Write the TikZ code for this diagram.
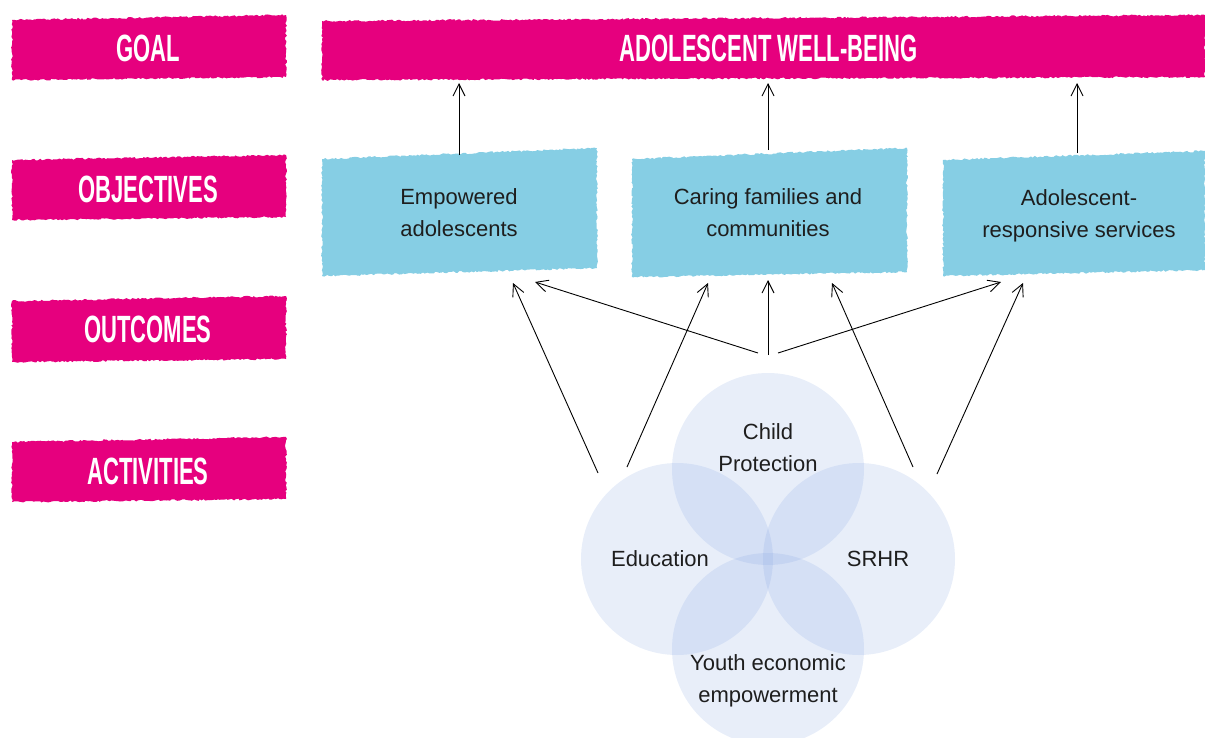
\documentclass[tikz,border=0pt]{standalone}
\usepackage{fontspec}
\usepackage{graphicx}
\setmainfont{Liberation Sans}
\usetikzlibrary{arrows.meta,decorations.pathmorphing}
\definecolor{pinkc}{HTML}{E6007E}
\definecolor{bluec}{HTML}{86CEE4}
\definecolor{vennc}{HTML}{7FA0E0}
\definecolor{txtc}{HTML}{1E1E1E}
\newcommand{\cond}[1]{\scalebox{0.58}[1]{#1}}
\begin{document}
\begin{tikzpicture}[x=1pt,y=-1pt,
  torn/.style={decorate,decoration={random steps,segment length=2pt,amplitude=0.9pt}},
  lab/.style={text=white,inner sep=0pt,font=\fontsize{38}{38}\selectfont\bfseries},
  conn/.style={-{Straight Barb[length=12pt,width=12pt,line width=0.9pt]},line width=0.9pt,black},
  body/.style={text=txtc,inner sep=0pt,align=center,font=\fontsize{22}{32}\selectfont},
  venn/.style={circle,fill=vennc,fill opacity=0.18,minimum size=192pt,inner sep=0pt}
]
\pgfmathsetseed{7}
\useasboundingbox (0,0) rectangle (1205,737);

% left pink labels
\fill[pinkc,torn] (12,20) -- (286,15) -- (286,77) -- (12,80) -- cycle;
\fill[pinkc,torn] (12,160) -- (286,155) -- (286,217) -- (12,220) -- cycle;
\fill[pinkc,torn] (12,301) -- (286,296) -- (286,359) -- (12,362) -- cycle;
\fill[pinkc,torn] (12,442) -- (286,437) -- (286,499) -- (12,502) -- cycle;
\node[lab] (goal) at (148,48.5) {\cond{GOAL}};
\node[lab] (obj) at (148,189) {\cond{OBJECTIVES}};
\node[lab] (out) at (148,329) {\cond{OUTCOMES}};
\node[lab] (act) at (148,471) {\cond{ACTIVITIES}};

% goal banner
\fill[pinkc,torn] (322,21) -- (1205,15) -- (1205,77) -- (322,80) -- cycle;
\node[lab] (wb) at (768.5,48.5) {\cond{ADOLESCENT WELL-BEING}};

% objective boxes
\fill[bluec,torn] (322,159) -- (597,148) -- (597,268) -- (322,276) -- cycle;
\fill[bluec,torn] (632,159) -- (907,148) -- (907,272) -- (632,277) -- cycle;
\fill[bluec,torn] (943,160) -- (1205,151) -- (1205,270) -- (943,276) -- cycle;
\node[body] (o1) at (459,213) {Empowered\\adolescents};
\node[body] (o2) at (768,213) {Caring families and\\communities};
\node[body] (o3) at (1079,215.5) {Adolescent-\\responsive services};

% coordinates for connectors
\coordinate (o1t) at (459,155);
\coordinate (o2t) at (768,150);
\coordinate (o3t) at (1077,153);
\coordinate (g1) at (459,83);
\coordinate (g2) at (768,83);
\coordinate (g3) at (1077,83);
\draw[conn] (o1t) -- (g1);
\draw[conn] (o2t) -- (g2);
\draw[conn] (o3t) -- (g3);

% Venn circles
\node[venn] (cp) at (768,469) {};
\node[venn] (ed) at (677,559) {};
\node[venn] (sr) at (859,559) {};
\node[venn] (ye) at (768,649) {};
\node[body] (cpt) at (768,448) {Child\\Protection};
\node[body] (edt) at (660,559) {Education};
\node[body] (srt) at (878,559) {SRHR};
\node[body] (yet) at (768,681) {Youth economic\\empowerment};

% outcome connectors
\coordinate (e1) at (598,473);
\coordinate (e2) at (627,467);
\coordinate (s1) at (913,467);
\coordinate (s2) at (937,474);
\coordinate (cl) at (758,353);
\coordinate (cm) at (768,355);
\coordinate (cr) at (778,353);
\coordinate (t1) at (513,283);
\coordinate (t2) at (535,282);
\coordinate (t3) at (708,283);
\coordinate (t4) at (768,280);
\coordinate (t5) at (832,283);
\coordinate (t6) at (1001,282);
\coordinate (t7) at (1023,283);
\draw[conn] (e1) -- (t1);
\draw[conn] (e2) -- (t3);
\draw[conn] (cl) -- (t2);
\draw[conn] (cm) -- (t4);
\draw[conn] (cr) -- (t6);
\draw[conn] (s1) -- (t5);
\draw[conn] (s2) -- (t7);
\end{tikzpicture}
\end{document}
